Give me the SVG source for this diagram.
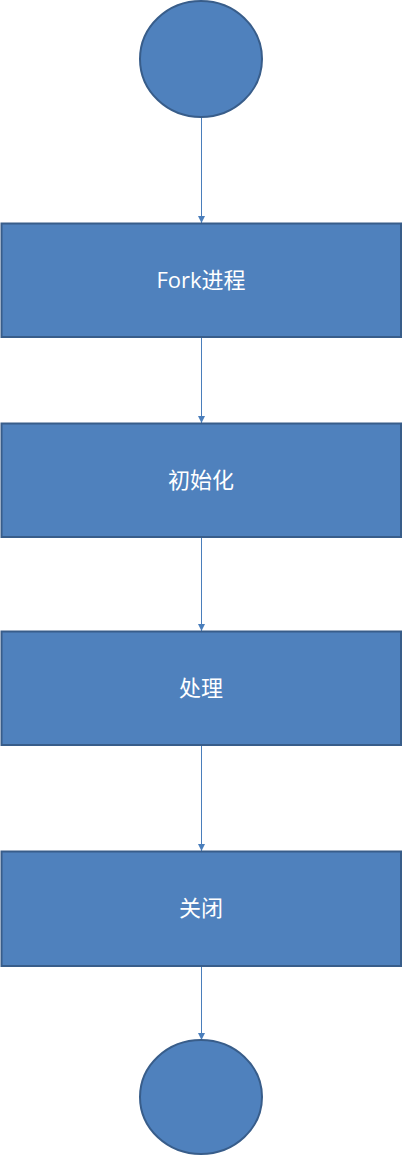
<svg xmlns="http://www.w3.org/2000/svg" width="403" height="1156" viewBox="0 0 403 1156">
<style>
.shape{fill:#4F81BD;stroke:#385D8A;stroke-width:2}
.lbl{fill:#FFFFFF;font-family:"Open Sans","Noto Sans CJK SC",sans-serif;font-size:22px;text-anchor:middle;dominant-baseline:central}
.conn{stroke:#4A7EBB;stroke-width:1;fill:none}
</style>
<defs>
<marker id="arr" viewBox="0 0 10 10" refX="10" refY="5" markerWidth="7" markerHeight="7" markerUnits="userSpaceOnUse" orient="auto">
<path d="M0,0 L10,5 L0,10 z" fill="#4A7EBB"/>
</marker>
</defs>
<rect width="403" height="1156" fill="#FFFFFF"/>
<g id="connectors">
<line class="conn" x1="201.5" y1="117" x2="201.5" y2="223" marker-end="url(#arr)"/>
<line class="conn" x1="201.5" y1="337" x2="201.5" y2="423" marker-end="url(#arr)"/>
<line class="conn" x1="201.5" y1="537" x2="201.5" y2="631" marker-end="url(#arr)"/>
<line class="conn" x1="201.5" y1="745" x2="201.5" y2="851" marker-end="url(#arr)"/>
<line class="conn" x1="201.5" y1="966" x2="201.5" y2="1040" marker-end="url(#arr)"/>
</g>
<g id="start"><ellipse class="shape" cx="201" cy="59" rx="61" ry="58"/></g>
<g id="fork"><rect class="shape" x="1.5" y="223.5" width="399.5" height="113.5"/><text class="lbl" x="201" y="279">Fork进程</text></g>
<g id="init"><rect class="shape" x="1.5" y="423.5" width="399.5" height="113.5"/><text class="lbl" x="201" y="479">初始化</text></g>
<g id="process"><rect class="shape" x="1.5" y="631.5" width="399.5" height="113.5"/><text class="lbl" x="201" y="687">处理</text></g>
<g id="close"><rect class="shape" x="1.5" y="851.5" width="399.5" height="114.5"/><text class="lbl" x="201" y="907">关闭</text></g>
<g id="end"><ellipse class="shape" cx="201" cy="1097" rx="61" ry="57"/></g>
</svg>
